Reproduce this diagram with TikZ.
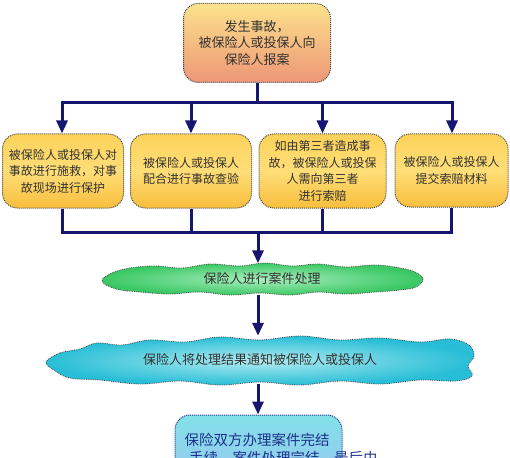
\documentclass[tikz,border=0pt]{standalone}
\usepackage{fontspec}
\setmainfont{Noto Sans CJK SC}
\usetikzlibrary{arrows.meta}
\definecolor{navy}{RGB}{22,22,112}
\definecolor{txt}{RGB}{50,50,50}
\definecolor{bdr}{RGB}{70,70,70}
\definecolor{topT}{RGB}{252,226,140}
\definecolor{topB}{RGB}{238,150,118}
\definecolor{ylT}{RGB}{253,210,90}
\definecolor{ylM}{RGB}{255,222,120}
\definecolor{ylB}{RGB}{247,190,60}
\definecolor{grO}{RGB}{58,200,100}
\definecolor{grI}{RGB}{170,238,190}
\definecolor{cyO}{RGB}{40,190,215}
\definecolor{cyI}{RGB}{178,236,240}
\definecolor{blT}{RGB}{130,225,232}
\definecolor{blB}{RGB}{150,200,240}
\definecolor{blD}{RGB}{30,50,140}
\tikzset{
  conn/.style={draw=navy,line width=3pt},
  arr/.style={conn,-{Triangle[length=13pt,width=11pt]}},
  box/.style={draw=bdr,densely dotted,line width=1pt,rounded corners=15pt,
    text=txt,align=center,inner sep=0pt},
  ybox/.style={box,top color=ylT,bottom color=ylB,middle color=ylM,
    font=\fontsize{12}{16.5}\selectfont},
  cloudline/.style={draw=bdr,densely dotted,line width=0.8pt},
  ctext/.style={text=txt,font=\fontsize{13}{16}\selectfont,inner sep=0pt},
}
\begin{document}
\begin{tikzpicture}[x=1pt,y=-1pt]
\clip (0,0) rectangle (510,457);
\useasboundingbox (0,0) rectangle (510,457);
\fill[white] (0,0) rectangle (510,457);
% top box
\node[box,top color=topT,bottom color=topB,minimum width=147pt,minimum height=79pt,
  font=\fontsize{13}{16.5}\selectfont] (top) at (257,43)
  {发生事故，\\被保险人或投保人向\\保险人报案};
% four boxes
\node[ybox,minimum width=121pt,minimum height=74pt] (b1) at (63,171)
  {被保险人或投保人对\\事故进行施救，对事\\故现场进行保护};
\node[ybox,minimum width=121pt,minimum height=74pt] (b2) at (191,171)
  {被保险人或投保人\\配合进行事故查验};
\node[ybox,minimum width=127pt,minimum height=74pt] (b3) at (322.5,171)
  {如由第三者造成事\\故，被保险人或投保\\人需向第三者\\进行索赔};
\node[ybox,minimum width=113pt,minimum height=73pt] (b4) at (451.5,170.5)
  {被保险人或投保人\\提交索赔材料};
% cloud 1
\path[cloudline,inner color=grI,outer color=grO] plot[smooth cycle,tension=0.6] coordinates {
 (102,281) (112,273) (130,268) (155,266) (182,268) (210,264) (240,266) (265,263)
 (292,266) (318,264) (346,267) (375,265) (400,268) (415,272) (423,279) (416,287)
 (400,290) (375,292) (346,294) (318,292) (290,295) (260,293) (230,295) (200,292)
 (170,294) (140,292) (116,289)};
\node[ctext,minimum width=320pt,minimum height=31pt] (c1) at (262,279) {保险人进行案件处理};
% cloud 2
\path[cloudline,inner color=cyI,outer color=cyO] plot[smooth cycle,tension=0.6] coordinates {
 (46,362) (60,353) (80,349) (97,343) (122,345) (150,340) (185,342) (220,337)
 (260,340) (300,336) (340,340) (380,338) (420,342) (450,339) (469,345) (474,356)
 (468,366) (472,376) (455,381) (420,380) (380,384) (340,381) (300,385) (260,382)
 (220,385) (180,381) (140,384) (100,380) (70,378) (54,370)};
\node[ctext,minimum width=428pt,minimum height=48pt] (c2) at (260,360)
  {保险人将处理结果通知被保险人或投保人};
% bottom box
\node[box,draw=blD,top color=blT,bottom color=blB,minimum width=167pt,
  minimum height=64pt] (bb) at (258.5,447) {};
\node[inner sep=0pt,text=blD,font=\fontsize{14.5}{17}\selectfont] (bt1) at (257,440)
  {保险双方办理案件完结};
\node[inner sep=0pt,anchor=west,text=blD,font=\fontsize{14.5}{17}\selectfont] (bt2)
  at (189,458.5) {手续，案件处理完结，最后由};
% connectors
\coordinate (busL) at (62,103);
\coordinate (busR) at (452,103);
\draw[conn] (top.south) -- (top.south|-busL);
\draw[conn] (busL) -- (busR);
\draw[arr] (62,101.5) -- (b1.north-|62,0);
\draw[arr] (b2.north|-busL) -- (b2.north);
\draw[arr] (b3.north|-busL) -- (b3.north);
\draw[arr] (452,101.5) -- (b4.north-|452,0);
\coordinate (bus2) at (258,232);
\draw[conn] (b1.south-|62,0) |- (b4.south|-bus2) -- (b4.south);
\draw[conn] (b2.south) -- (b2.south|-bus2);
\draw[conn] (b3.south) -- (b3.south|-bus2);
\draw[arr] (bus2) -- (c1.north-|bus2);
\draw[arr] (c1.south-|bus2) -- (c2.north-|bus2);
\draw[arr] (c2.south-|bus2) -- (bb.north-|bus2);
\end{tikzpicture}
\end{document}
